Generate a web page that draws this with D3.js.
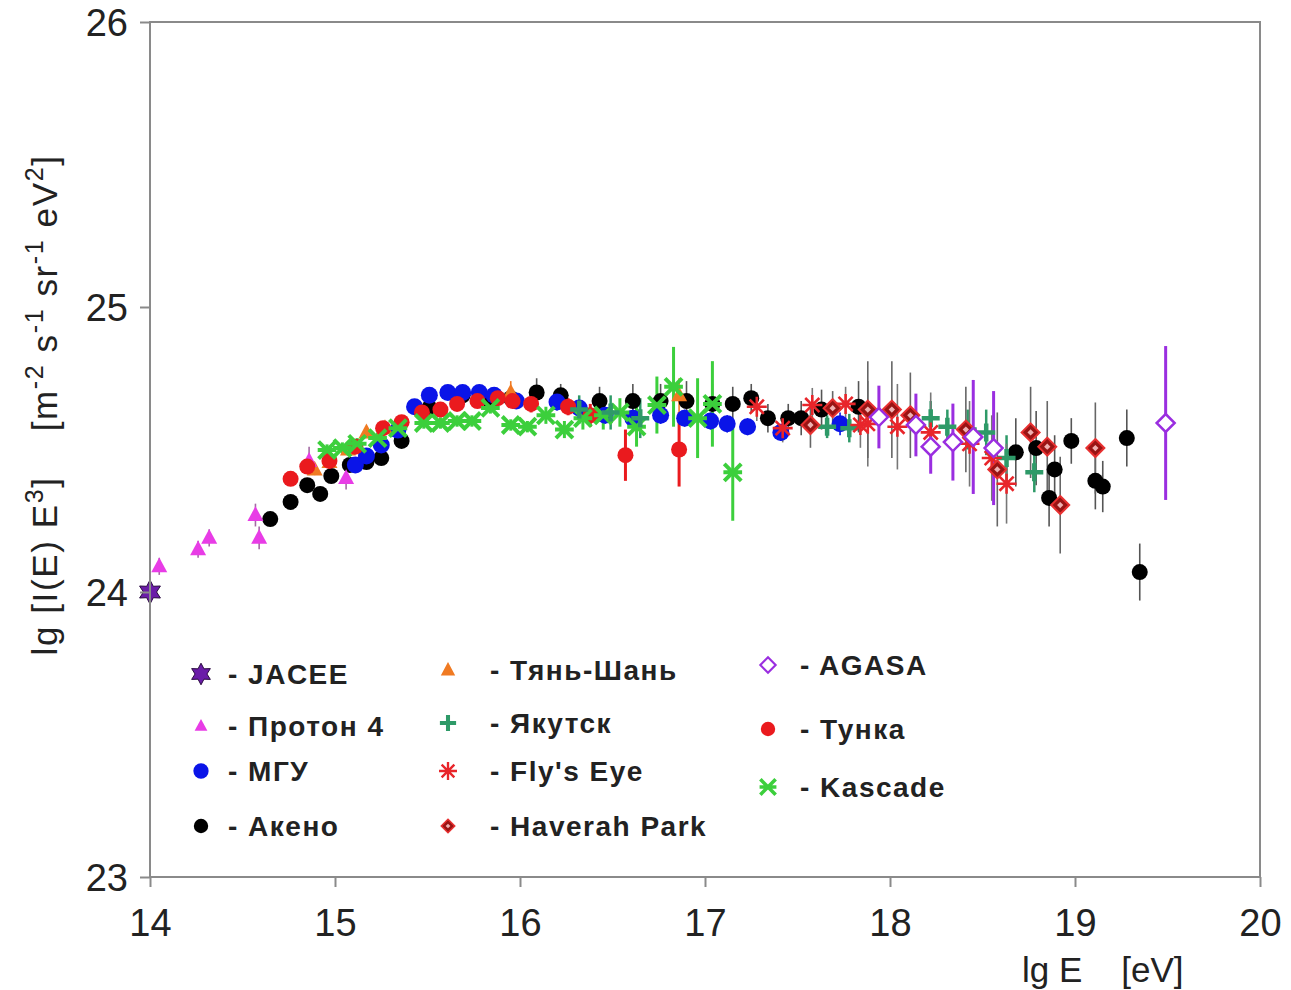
<!DOCTYPE html>
<html><head><meta charset="utf-8">
<script src="https://cdn.jsdelivr.net/npm/d3@7"></script>
<style>
body{margin:0;background:#fff;}
text{font-family:"Liberation Sans",Arial,sans-serif;}
</style></head>
<body><svg id="c" width="1291" height="990"></svg>
<script>
// ---- data: [lg E, lg(I E^3), error] ----
const jacee = [[14.0,24.0,0.01]];
const proton4 = [[14.05,24.09,0.03],[14.26,24.15,0.03],[14.32,24.19,0.03],[14.57,24.27,0.04],[14.59,24.19,0.04],[14.86,24.46,0.05],[15.06,24.40,0.04]];
const mgu = [[15.11,24.446,0.02],[15.17,24.477,0.02],[15.25,24.516,0.02],[15.34,24.568,0.02],[15.43,24.65,0.02],[15.51,24.69,0.02],[15.61,24.70,0.02],[15.69,24.70,0.02],[15.78,24.70,0.02],[15.86,24.69,0.02],[15.98,24.67,0.02],[16.20,24.667,0.03],[16.32,24.646,0.03],[16.46,24.62,0.03],[16.61,24.61,0.03],[16.76,24.62,0.03],[16.89,24.61,0.03],[17.03,24.60,0.03],[17.12,24.59,0.03],[17.23,24.58,0.03],[17.41,24.56,0.03],[17.73,24.59,0.04]];
const akeno = [[14.65,24.256,0.02],[14.76,24.316,0.02],[14.85,24.375,0.02],[14.92,24.344,0.02],[14.98,24.407,0.02],[15.08,24.446,0.02],[15.17,24.456,0.02],[15.25,24.47,0.02],[15.36,24.53,0.02],[15.51,24.646,0.02],[15.69,24.69,0.03],[15.84,24.67,0.03],[15.95,24.68,0.03],[16.09,24.70,0.05],[16.22,24.69,0.04],[16.43,24.67,0.05],[16.61,24.67,0.06],[16.76,24.67,0.06],[16.90,24.67,0.07],[17.04,24.66,0.07],[17.15,24.66,0.06],[17.25,24.68,0.05],[17.34,24.61,0.05],[17.45,24.61,0.05],[17.52,24.61,0.06],[17.63,24.64,0.07],[17.83,24.65,0.09],[18.68,24.49,0.12],[18.79,24.505,0.13],[18.86,24.33,0.1],[18.89,24.43,0.12],[18.98,24.53,0.08],[19.11,24.39,0.1],[19.15,24.37,0.09],[19.28,24.54,0.1],[19.35,24.07,0.1]];
const tienShan = [[14.89,24.43,0.02],[14.97,24.456,0.02],[15.07,24.50,0.02],[15.17,24.56,0.02],[15.27,24.575,0.02],[15.95,24.70,0.04],[16.86,24.69,0.06]];
const yakutsk = [[16.32,24.64,0.05],[16.49,24.63,0.06],[16.65,24.61,0.07],[17.66,24.58,0.04],[17.78,24.575,0.05],[18.22,24.61,0.06],[18.31,24.58,0.06],[18.42,24.57,0.07],[18.52,24.56,0.08],[18.63,24.47,0.08],[18.78,24.42,0.07]];
const flysEye = [[17.28,24.65,0.05],[17.42,24.575,0.05],[17.58,24.656,0.06],[17.76,24.66,0.06],[17.84,24.586,0.08],[17.88,24.59,0.15],[18.04,24.58,0.15],[18.22,24.56,0.14],[18.43,24.52,0.15],[18.55,24.47,0.15],[18.63,24.38,0.14]];
const haverah = [[17.57,24.586,0.08],[17.69,24.645,0.06],[17.88,24.64,0.17],[18.01,24.64,0.17],[18.11,24.62,0.15],[18.41,24.57,0.15],[18.58,24.43,0.2],[18.76,24.56,0.16],[18.85,24.51,0.16],[18.92,24.305,0.17],[19.11,24.505,0.16]];
const agasa = [[17.94,24.614,0.11],[18.14,24.586,0.11],[18.22,24.51,0.095],[18.34,24.526,0.135],[18.45,24.544,0.2],[18.56,24.505,0.2],[19.49,24.593,0.27]];
const tunka = [[14.76,24.397,0.02],[14.85,24.44,0.02],[14.97,24.46,0.02],[15.11,24.51,0.02],[15.26,24.575,0.02],[15.36,24.596,0.02],[15.47,24.63,0.02],[15.57,24.64,0.02],[15.66,24.66,0.02],[15.77,24.67,0.02],[15.88,24.68,0.02],[15.96,24.67,0.02],[16.06,24.66,0.03],[16.26,24.65,0.03],[16.38,24.62,0.04],[16.57,24.48,0.09],[16.86,24.50,0.13]];
const kascade = [[14.957,24.498,0.02],[15.04,24.505,0.02],[15.12,24.52,0.02],[15.23,24.54,0.02],[15.34,24.575,0.02],[15.48,24.593,0.02],[15.57,24.593,0.02],[15.66,24.60,0.02],[15.74,24.60,0.02],[15.84,24.646,0.02],[15.95,24.586,0.02],[16.04,24.58,0.02],[16.14,24.62,0.03],[16.24,24.57,0.03],[16.34,24.61,0.04],[16.45,24.62,0.05],[16.54,24.63,0.05],[16.63,24.58,0.07],[16.74,24.656,0.1],[16.83,24.72,0.14],[16.96,24.61,0.14],[17.04,24.66,0.15],[17.15,24.42,0.17]];

const xTicks = [14,15,16,17,18,19,20];
const yTicks = [23,24,25,26];
const legendNames = ["- JACEE","- Протон 4","- МГУ","- Акено","- Тянь-Шань","- Якутск","- Fly's Eye","- Haverah Park","- AGASA","- Тунка","- Kascade"];

// ---- chart ----
const svg = d3.select("#c");
const x = d3.scaleLinear().domain([14,20]).range([150,1260]);
const y = d3.scaleLinear().domain([23,26]).range([877,22]);
const frame = "#8a8a8a";

const series = [
  {key:"akeno", data:akeno, sym:"circle", fill:"#000", stroke:"none", r:8, err:"#555", ew:1.6},
  {key:"mgu", data:mgu, sym:"circle", fill:"#0a14e8", stroke:"none", r:8.5, err:"#0a14e8", ew:1.6},
  {key:"tien", data:tienShan, sym:"triangle", fill:"#f07a22", stroke:"none", r:8, err:"#f07a22", ew:1.6},
  {key:"proton", data:proton4, sym:"triangle", fill:"#e83ce6", stroke:"none", r:8, err:"#a46aa4", ew:1.6},
  {key:"tunka", data:tunka, sym:"circle", fill:"#ea1a1e", stroke:"none", r:8, err:"#ea1a1e", ew:3},
  {key:"kascade", data:kascade, sym:"x", fill:"none", stroke:"#3ccf3c", r:8.5, err:"#3ccf3c", ew:3},
  {key:"yakutsk", data:yakutsk, sym:"plus", fill:"none", stroke:"#2e9a68", r:9, err:"#2e9a68", ew:2.5},
  {key:"fly", data:flysEye, sym:"aster", fill:"none", stroke:"#e8252a", r:10, err:"#777", ew:1.6},
  {key:"haverah", data:haverah, sym:"hdiamond", fill:"#9a1414", stroke:"#e83030", r:9, err:"#666", ew:1.6},
  {key:"agasa", data:agasa, sym:"odiamond", fill:"#fff", stroke:"#9a2ee0", r:9, err:"#9a2ee0", ew:3},
  {key:"jacee", data:jacee, sym:"star", fill:"#6a1ca8", stroke:"#2a0a40", r:12, err:"#555", ew:1.6}
];
const legendScale = [0.9,0.9,0.9,0.8,0.9,0.9,0.9,0.9,0.75,0.85,0.9];

function drawMarker(g, s, cx, cy, scale){
  const r = s.r*scale;
  if(s.sym==="circle"){
    g.append("circle").attr("cx",cx).attr("cy",cy).attr("r",r).attr("fill",s.fill);
  } else if(s.sym==="triangle"){
    g.append("path").attr("transform",`translate(${cx},${cy})`)
      .attr("d",`M0,${-r*1.1}L${r},${r*0.75}L${-r},${r*0.75}Z`).attr("fill",s.fill);
  } else if(s.sym==="x"){
    g.append("path").attr("transform",`translate(${cx},${cy})`)
      .attr("d",`M${-r},${-r}L${r},${r}M${-r},${r}L${r},${-r}M${-r*1.1},0L${r*1.1},0`).attr("stroke",s.stroke).attr("stroke-width",4*scale).attr("fill","none");
  } else if(s.sym==="plus"){
    g.append("path").attr("transform",`translate(${cx},${cy})`)
      .attr("d",`M${-r},0L${r},0M0,${-r}L0,${r}`).attr("stroke",s.stroke).attr("stroke-width",4.5*scale).attr("fill","none");
  } else if(s.sym==="aster"){
    let d="";
    for(let i=0;i<4;i++){const a=i*Math.PI/4; d+=`M${-r*Math.sin(a)},${-r*Math.cos(a)}L${r*Math.sin(a)},${r*Math.cos(a)}`;}
    g.append("path").attr("transform",`translate(${cx},${cy})`).attr("d",d).attr("stroke",s.stroke).attr("stroke-width",2.6*scale).attr("fill","none");
  } else if(s.sym==="hdiamond"){
    g.append("path").attr("transform",`translate(${cx},${cy})`)
      .attr("d",`M0,${-r}L${r},0L0,${r}L${-r},0Z`).attr("fill",s.fill).attr("stroke",s.stroke).attr("stroke-width",2*scale);
    g.append("path").attr("transform",`translate(${cx},${cy})`)
      .attr("d",`M0,${-r*0.35}L${r*0.35},0L0,${r*0.35}L${-r*0.35},0Z`).attr("fill","#f0b0b0");
  } else if(s.sym==="odiamond"){
    g.append("path").attr("transform",`translate(${cx},${cy})`)
      .attr("d",`M0,${-r}L${r},0L0,${r}L${-r},0Z`).attr("fill",s.fill).attr("stroke",s.stroke).attr("stroke-width",2.5*scale);
  } else if(s.sym==="star"){
    const p=[];
    for(let i=0;i<12;i++){const a=i*Math.PI/6; const rr=(i%2===0)?r:r*0.55; p.push([rr*Math.sin(a),-rr*Math.cos(a)]);}
    g.append("path").attr("transform",`translate(${cx},${cy})`)
      .attr("d","M"+p.map(q=>q.join(",")).join("L")+"Z").attr("fill",s.fill).attr("stroke",s.stroke).attr("stroke-width",1);
  }
}

// error bars
const eg = svg.append("g");
series.forEach(s=>{
  eg.selectAll(null).data(s.data).enter().append("line")
    .attr("x1",d=>x(d[0])).attr("x2",d=>x(d[0]))
    .attr("y1",d=>y(d[1]+d[2])).attr("y2",d=>y(d[1]-d[2]))
    .attr("stroke",s.err).attr("stroke-width",s.ew);
});
// markers
const mg = svg.append("g");
series.forEach(s=>{
  s.data.forEach(d=>drawMarker(mg,s,x(d[0]),y(d[1]),1));
});

// frame
svg.append("rect").attr("x",150).attr("y",22).attr("width",1110).attr("height",855)
  .attr("fill","none").attr("stroke",frame).attr("stroke-width",2);

// axes
const xa = svg.append("g").attr("transform","translate(0,877)")
  .call(d3.axisBottom(x).tickValues(xTicks).tickFormat(d3.format("d")).tickSize(10).tickPadding(22));
const ya = svg.append("g").attr("transform","translate(150,0)")
  .call(d3.axisLeft(y).tickValues(yTicks).tickFormat(d3.format("d")).tickSize(10).tickPadding(12));
[xa,ya].forEach(a=>{
  a.select(".domain").remove();
  a.selectAll(".tick line").attr("stroke",frame).attr("stroke-width",2);
  a.selectAll(".tick text").attr("font-size",38).attr("fill","#222")
    .attr("font-family","'Liberation Sans',Arial,sans-serif");
});
ya.selectAll(".tick text").attr("dy","0.36em");

// x title
svg.append("text").attr("x",1022).attr("y",982).attr("font-size",35).attr("fill","#222")
  .style("white-space","pre").text("lg E    [eV]");

// y title
const yt = svg.append("text").attr("transform","translate(57,405) rotate(-90)")
  .attr("text-anchor","middle").attr("font-size",35).attr("fill","#222")
  .attr("letter-spacing",1.6).style("white-space","pre");
const parts = [["lg [I(E) E",0],["3",1],["]    [m",0],["-2",1],[" s",0],["-1",1],[" sr",0],["-1",1],[" eV",0],["2",1],["]",0]];
let prevSup=false;
parts.forEach(([t,sup])=>{
  const ts = yt.append("tspan").text(t);
  if(sup){ts.attr("font-size",25).attr("dy",-14);}
  else if(prevSup){ts.attr("dy",14);}
  prevSup=!!sup;
});

// legend
const legCols = [
  {mx:201, tx:228, rows:[674,726,771,826], idx:[10,3,1,0]},
  {mx:448, tx:490, rows:[670,723,771,826], idx:[2,6,7,8]},
  {mx:768, tx:800, rows:[665,729,787], idx:[9,4,5]}
];
const order = [10,3,1,0,2,6,7,8,9,4,5];
const lg = svg.append("g");
legCols.forEach(c=>{
  c.idx.forEach((si,i)=>{
    const s = series[si];
    drawMarker(lg,s,c.mx,c.rows[i],legendScale[si]);
    lg.append("text").attr("x",c.tx).attr("y",c.rows[i]).attr("dy","0.36em")
      .attr("font-size",28).attr("font-weight","bold").attr("fill","#222").attr("letter-spacing",1.5)
      .text(legendNames[order.indexOf(si)]);
  });
});
</script>
</body></html>
